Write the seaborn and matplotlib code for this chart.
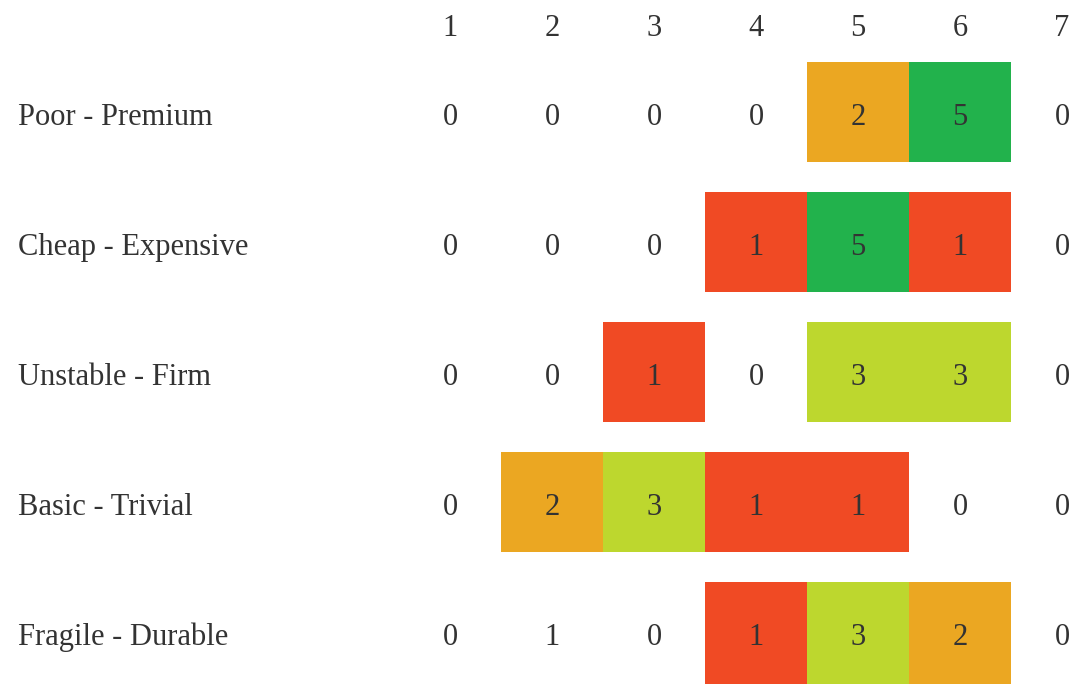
import numpy as np
import pandas as pd
import matplotlib
matplotlib.use("Agg")
import matplotlib.pyplot as plt
from matplotlib.colors import ListedColormap, BoundaryNorm
from matplotlib.transforms import ScaledTranslation
import seaborn as sns

# Semantic differential: how many respondents chose each scale point
pairs = ["Poor - Premium", "Cheap - Expensive", "Unstable - Firm",
         "Basic - Trivial", "Fragile - Durable"]
scale = ["1", "2", "3", "4", "5", "6", "7"]
poor_premium = [0, 0, 0, 0, 2, 5, 0]
cheap_expensive = [0, 0, 0, 1, 5, 1, 0]
unstable_firm = [0, 0, 1, 0, 3, 3, 0]
basic_trivial = [0, 2, 3, 1, 1, 0, 0]
fragile_durable = [0, 1, 0, 1, 3, 2, 0]

# Highlight level of each cell (0 = no fill)
poor_premium_fill = [0, 0, 0, 0, 2, 5, 0]
cheap_expensive_fill = [0, 0, 0, 1, 5, 1, 0]
unstable_firm_fill = [0, 0, 1, 0, 3, 3, 0]
basic_trivial_fill = [0, 2, 3, 1, 1, 0, 0]
fragile_durable_fill = [0, 0, 0, 1, 3, 2, 0]

counts = pd.DataFrame(
    [poor_premium, cheap_expensive, unstable_firm, basic_trivial, fragile_durable],
    index=pairs, columns=scale)
fills = pd.DataFrame(
    [poor_premium_fill, cheap_expensive_fill, unstable_firm_fill,
     basic_trivial_fill, fragile_durable_fill],
    index=pairs, columns=scale)

# Discrete colour per level: 0 white, 1 red, 2 orange, 3 lime, 4 light green, 5 green
level_colors = ["#FFFFFF", "#F04A24", "#EBA722", "#BDD72E", "#7CC43D", "#22B24C"]
cmap = ListedColormap(level_colors)
norm = BoundaryNorm(np.arange(-0.5, 6.5, 1), cmap.N)

sns.set_theme(style="white")
plt.rcParams["font.family"] = ["Liberation Serif", "DejaVu Serif"]

W, H = 1074, 684
fig = plt.figure(figsize=(W / 100, H / 100), dpi=100)
# grid cells are 102 px wide, rows are 130 px apart
left_px, top_px = 399, 47
ax_w, ax_h = 7 * 102, 5 * 130
ax = fig.add_axes([left_px / W, 1 - (top_px + ax_h) / H, ax_w / W, ax_h / H])

sns.heatmap(fills, ax=ax, cmap=cmap, norm=norm, cbar=False,
            annot=counts.values, fmt="d",
            annot_kws={"fontsize": 22, "color": "#333333", "va": "center_baseline"},
            linewidths=0)

# nudge the cell numbers slightly below centre
shift = ScaledTranslation(0, -2 / 100, fig.dpi_scale_trans)
for t in ax.texts:
    t.set_transform(t.get_transform() + shift)

# white gaps between rows
for y in range(len(pairs) + 1):
    ax.axhline(y, color="white", linewidth=30 * 72 / 100)

ax.xaxis.tick_top()
ax.tick_params(axis="x", length=0, pad=2.7, labelsize=22, labelcolor="#333333")
ax.tick_params(axis="y", length=0, pad=381 * 72 / 100, labelsize=22, labelcolor="#333333")
# row labels sit on a baseline just below each row's centre
ax.set_yticks(np.arange(len(pairs)) + 0.5 + 0.1)
ax.set_yticklabels(pairs, rotation=0, ha="left", va="baseline")
ax.set_xlabel("")
ax.set_ylabel("")
for s in ax.spines.values():
    s.set_visible(False)

fig.savefig("out.png", dpi=100, facecolor="white")
